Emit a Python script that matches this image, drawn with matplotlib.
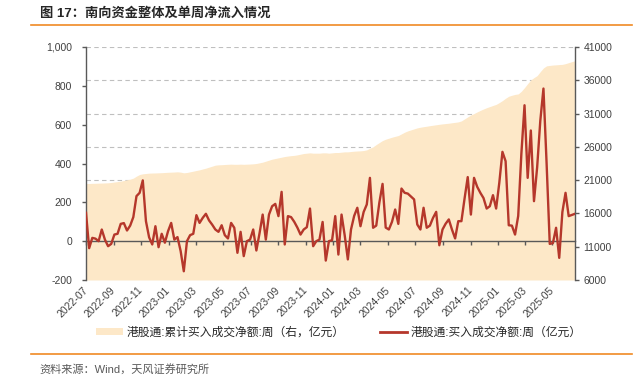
import matplotlib
matplotlib.use('Agg')
import matplotlib.pyplot as plt
import matplotlib.dates as mdates
from matplotlib.lines import Line2D
from matplotlib.patches import Patch
from matplotlib.ticker import FuncFormatter
import pandas as pd

plt.rcParams['font.family'] = ['Liberation Sans', 'Noto Sans CJK SC', 'DejaVu Sans']

# ---------------- data ----------------
start_date = '2022-07-01'
n_weeks = 156

# weekly net buy (亿元, left axis)
weekly_flow = [146, -36, 17, 13, 0, 60, 8, -26, -14, 34,
               38, 89, 93, 55, 80, 124, 232, 249, 313, 103,
               20, -17, 77, -31, 38, -8, 51, 94, 8, 21,
               -51, -155, 0, 31, 38, 134, 94, 120, 141, 107,
               85, 60, 48, 82, 31, 14, 94, 69, -60, 48,
               -77, 0, 8, 60, -48, 40, 137, 8, 137, 180,
               192, 129, 254, -17, 129, 124, 100, 70, 34, 60,
               72, 168, -26, 0, 8, 99, -100, 0, 5, 129,
               -69, 137, 30, -94, 60, 130, 172, 77, 150, 189,
               326, 69, 80, 200, 295, 70, 60, 100, 163, 89,
               271, 249, 245, 230, 215, 86, 60, 172, 69, 80,
               120, 151, -21, 60, 90, 112, 60, 14, 103, 103,
               220, 330, 137, 326, 280, 249, 222, 168, 180, 237,
               168, 300, 460, 412, 82, 80, 34, 130, 450, 700,
               326, 570, 206, 380, 620, 786, 400, -14, -10, 69,
               -86, 150, 249, 129, 135, 141]

# cumulative net buy (亿元, right axis)
cumulative = [20500, 20500, 20520, 20530, 20550, 20560, 20580, 20600, 20650, 20720,
              20780, 20850, 20950, 21050, 21150, 21300, 21600, 21850, 21950, 22000,
              22050, 22070, 22080, 22100, 22120, 22150, 22180, 22200, 22220, 22250,
              22200, 22100, 22150, 22250, 22350, 22450, 22550, 22680, 22800, 22950,
              23100, 23250, 23300, 23320, 23350, 23380, 23400, 23380, 23380, 23400,
              23380, 23400, 23420, 23450, 23500, 23600, 23700, 23850, 24000, 24150,
              24250, 24350, 24450, 24550, 24620, 24680, 24720, 24800, 24900, 25000,
              25050, 25100, 25050, 25050, 25050, 25100, 25100, 25050, 25100, 25150,
              25150, 25200, 25250, 25250, 25300, 25350, 25380, 25400, 25450, 25550,
              25800, 26000, 26350, 26650, 26950, 27150, 27300, 27450, 27580, 27700,
              27950, 28200, 28400, 28550, 28700, 28850, 28950, 29030, 29100, 29180,
              29250, 29320, 29390, 29450, 29500, 29550, 29620, 29680, 29750, 29900,
              30200, 30500, 30800, 31000, 31250, 31480, 31690, 31880, 32050, 32220,
              32380, 32650, 32950, 33300, 33600, 33750, 33880, 33950, 34350, 34900,
              35500, 36050, 36400, 36700, 37300, 37850, 38170, 38230, 38290, 38320,
              38360, 38390, 38500, 38650, 38800, 38940]

tick_months = pd.date_range('2022-07-01', '2025-05-01', freq='2MS')
tick_labels = [d.strftime('%Y-%m') for d in tick_months]

title = '图 17：南向资金整体及单周净流入情况'
legend_cum = '港股通:累计买入成交净额:周（右，亿元）'
legend_flow = '港股通:买入成交净额:周（亿元）'
source = '资料来源：Wind，天风证券研究所'

# ---------------- styles ----------------
FILL_C = '#FDE8C8'
LINE_C = '#B5372B'
AX_C = '#595959'
TXT_C = '#404040'
ORANGE = '#F08A24'

dates = pd.date_range(start_date, periods=n_weeks, freq='7D')
x = mdates.date2num(dates)
xt = mdates.date2num(tick_months)

W, H = 636, 379
fig = plt.figure(figsize=(W / 100, H / 100), dpi=100)
ax = fig.add_axes([86 / W, 1 - 280 / H, 489 / W, 233 / H])
ax2 = ax.twinx()
ax.set_zorder(ax2.get_zorder() + 1)
ax.patch.set_visible(False)

# right axis: cumulative area
ax2.fill_between(x, cumulative, 6000, color=FILL_C, lw=0, zorder=1)
ax2.set_ylim(6000, 41000)
ax2.set_yticks(range(6000, 41001, 5000))
ax2.yaxis.grid(True, ls=(0, (4, 3)), color='#BFBFBF', lw=0.8)
ax2.set_axisbelow(True)
for s in ('top', 'bottom', 'left'):
    ax2.spines[s].set_visible(False)
ax2.spines['right'].set_color(AX_C)
ax2.spines['right'].set_linewidth(1.0)
ax2.tick_params(axis='y', direction='out', length=3, width=1, color=AX_C,
                labelsize=7.5, labelcolor=TXT_C, pad=3)

# left axis: weekly flow line
ax.plot(x, weekly_flow, color=LINE_C, lw=1.7, solid_joinstyle='round', zorder=3)
ax.set_ylim(-200, 1000)
ax.set_yticks(range(-200, 1001, 200))
ax.yaxis.set_major_formatter(FuncFormatter(lambda v, p: f'{int(v):,}'))
ax.set_xlim(x[0], x[-1])
ax.spines['top'].set_visible(False)
ax.spines['right'].set_visible(False)
ax.spines['left'].set_color(AX_C)
ax.spines['left'].set_linewidth(1.0)
ax.spines['bottom'].set_position(('data', 0))
ax.spines['bottom'].set_color(AX_C)
ax.spines['bottom'].set_linewidth(1.0)
ax.spines['bottom'].set_zorder(2)
ax.tick_params(axis='y', direction='out', length=3, width=1, color=AX_C,
               labelsize=7.5, labelcolor=TXT_C, pad=7)
ax.set_xticks(xt)
ax.tick_params(axis='x', direction='out', length=3, width=1, color=AX_C,
               labelbottom=False)

# date labels at the bottom of the plot area
sec = ax.secondary_xaxis('bottom')
sec.set_xticks(xt, labels=tick_labels)
sec.tick_params(axis='x', length=0, pad=6, labelsize=7.5, labelcolor=TXT_C)
sec.spines['bottom'].set_visible(False)
for lab in sec.get_xticklabels():
    lab.set_rotation(45)
    lab.set_ha('right')
    lab.set_va('center')
    lab.set_rotation_mode('anchor')

# title, rules, legends, source
fig.text(40 / W, 1 - 13.5 / H, title, fontsize=9.5, fontweight='bold',
         color='#262626', va='center', ha='left')
fig.add_artist(Line2D([31 / W, 632 / W], [1 - 25 / H] * 2, color=ORANGE, lw=1.2))
fig.add_artist(Line2D([31 / W, 632 / W], [1 - 354 / H] * 2, color=ORANGE, lw=1.2))

common = dict(loc='center left', frameon=False, borderpad=0, borderaxespad=0,
              handlelength=2.3, handleheight=0.5, handletextpad=0.3,
              prop={'size': 8.5})
fig.legend(handles=[Patch(facecolor=FILL_C, edgecolor='none')], labels=[legend_cum],
           bbox_to_anchor=(96 / W, 1 - 333 / H), labelcolor='#262626', **common)
fig.legend(handles=[Line2D([], [], color=LINE_C, lw=2)], labels=[legend_flow],
           bbox_to_anchor=(380 / W, 1 - 333 / H), labelcolor='#262626', **common)

fig.text(39 / W, 1 - 369 / H, source, fontsize=8, color=AX_C, va='center', ha='left')

fig.savefig('out.png', dpi=100)
